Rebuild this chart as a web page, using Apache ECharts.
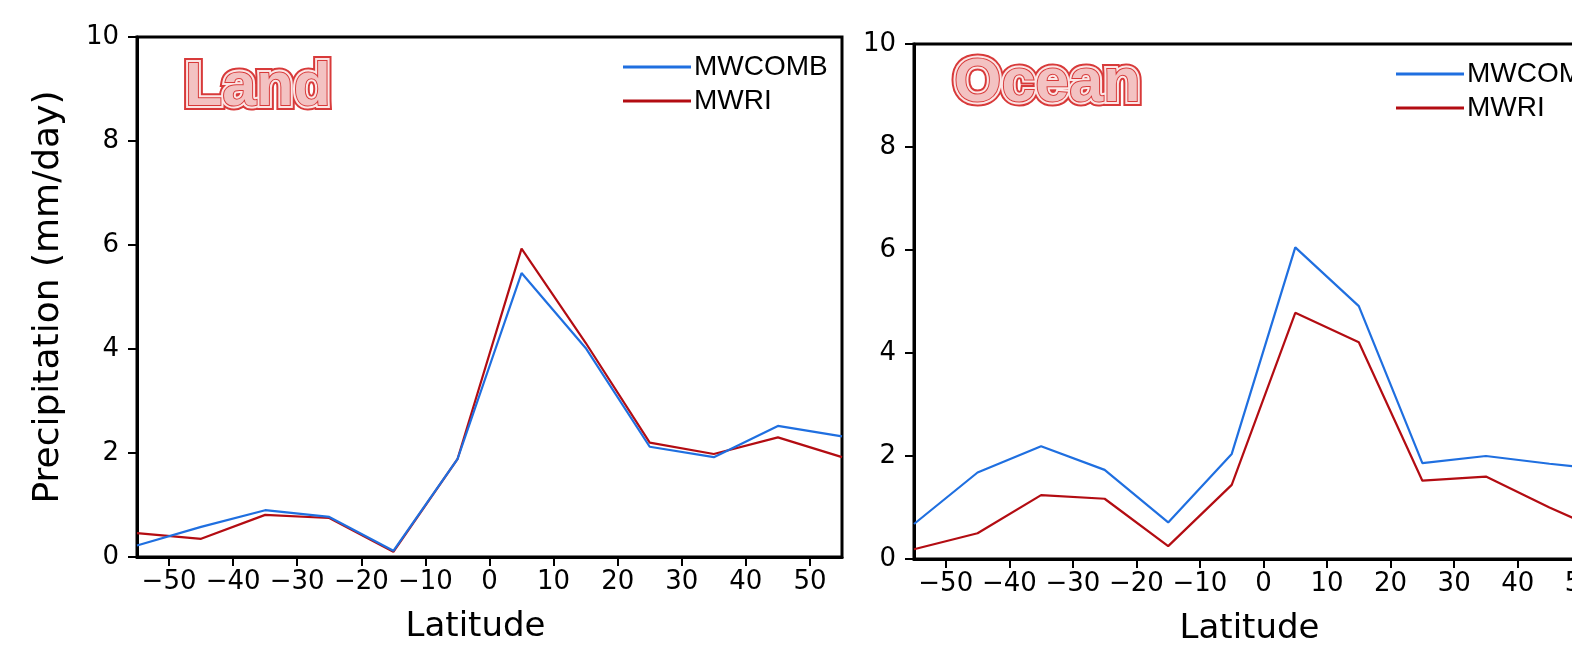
<!DOCTYPE html>
<html>
<head>
<meta charset="utf-8">
<script src="https://cdn.jsdelivr.net/npm/echarts@6/dist/echarts.min.js"></script>
<style>
html,body{margin:0;padding:0;background:#fff;}
#c{width:1572px;height:659px;}
</style>
</head>
<body>
<div id="c"></div>
<script>
// ---- data ----
const latitudes = [-55, -45, -35, -25, -15, -5, 5, 15, 25, 35, 45, 55];
const landMWCOMB = [0.22, 0.58, 0.90, 0.77, 0.12, 1.88, 5.46, 4.02, 2.12, 1.92, 2.52, 2.32];
const landMWRI   = [0.46, 0.35, 0.81, 0.75, 0.10, 1.88, 5.93, 4.12, 2.20, 1.98, 2.30, 1.92];
const oceanMWCOMB = [0.68, 1.68, 2.19, 1.73, 0.71, 2.04, 6.05, 4.91, 1.86, 2.00, 1.85, 1.72];
const oceanMWRI   = [0.19, 0.50, 1.24, 1.17, 0.25, 1.44, 4.78, 4.21, 1.52, 1.60, 1.00, 0.45];
const xTickValues = [-50, -40, -30, -20, -10, 0, 10, 20, 30, 40, 50];
const seriesNames = ['MWCOMB', 'MWRI'];
const panelTitles = ['Land', 'Ocean'];
const yAxisTitle = 'Precipitation (mm/day)';
const xAxisTitle = 'Latitude';

const BLUE = '#1f6fe0', RED = '#b30c12';
const FONT = 'DejaVu Sans';

function pairs(vals){ return latitudes.map((x,i)=>[x, vals[i]]); }

const chart = echarts.init(document.getElementById('c'), null, {renderer:'canvas'});

const grids = [
  {left:137, top:37, width:705, height:520},
  {left:914, top:44, width:699, height:515}
];

function xAx(i){
  return {
    type:'value', gridIndex:i, min:-55, max:55,
    name: xAxisTitle, nameLocation:'middle', nameGap:53,
    nameTextStyle:{fontFamily:FONT, fontSize:34, color:'#000', padding:[0,28,0,0]},
    axisLine:{show:true, onZero:false, lineStyle:{color:'#000', width:3}},
    axisTick:{show:true, customValues:xTickValues, length:9, lineStyle:{color:'#000', width:2}},
    axisLabel:{show:true, customValues:xTickValues, margin:12, fontFamily:FONT, fontSize:26, color:'#000',
      formatter:v=>String(v).replace('-', '\u2212')},
    splitLine:{show:false}
  };
}
function yAx(i, named){
  return {
    type:'value', gridIndex:i, min:0, max:10, interval:2,
    name: named ? yAxisTitle : '', nameLocation:'middle', nameGap:70, nameRotate:90,
    nameTextStyle:{fontFamily:FONT, fontSize:36, color:'#000'},
    axisLine:{show:true, onZero:false, lineStyle:{color:'#000', width:3}},
    axisTick:{show:true, length:9, lineStyle:{color:'#000', width:2}},
    axisLabel:{margin:18, fontFamily:FONT, fontSize:26, color:'#000'},
    splitLine:{show:false}
  };
}

function lineSeries(name, vals, color, gi){
  return {
    type:'line', name:name, xAxisIndex:gi, yAxisIndex:gi,
    data:pairs(vals), showSymbol:false, symbol:'none', clip:true,
    lineStyle:{color:color, width:2.2}, itemStyle:{color:color}, animation:false
  };
}

function titleLayers(text, x, y){
  const font = 'bold 61px "Liberation Sans", Arial, sans-serif';
  return [
    {type:'text', z:100, style:{text:text, x:x, y:y, font:font, fill:'#d83a3a', stroke:'#d83a3a', lineWidth:10, lineJoin:'round',
      shadowBlur:7, shadowColor:'rgba(0,0,0,0.45)', shadowOffsetX:1, shadowOffsetY:3}},
    {type:'text', z:101, style:{text:text, x:x, y:y, font:font, fill:'#fff3f3', stroke:'#fbe6e6', lineWidth:6, lineJoin:'round'}},
    {type:'text', z:102, style:{text:text, x:x, y:y, font:font, fill:'#f3c2c2', stroke:'#d83a3a', lineWidth:2, lineJoin:'round'}}
  ];
}

const legendBase = {
  orient:'vertical', selectedMode:false, icon:'rect', itemWidth:68, itemHeight:3, itemGap:6,
  textStyle:{fontFamily:'"Liberation Sans", Arial, sans-serif', fontSize:28, color:'#000', padding:[0,0,0,-2]},
  data:seriesNames
};

const option = {
  backgroundColor:'#fff',
  animation:false,
  grid: grids.map(g=>Object.assign({show:true, borderColor:'#000', borderWidth:3, backgroundColor:'transparent',
    containLabel:false, outerBoundsMode:'none'}, g)),
  xAxis:[xAx(0), xAx(1)],
  yAxis:[yAx(0,true), yAx(1,false)],
  legend:[
    Object.assign({left:618, top:48}, legendBase),
    Object.assign({left:1391, top:55}, legendBase)
  ],
  series:[
    lineSeries(seriesNames[1], landMWRI, RED, 0),
    lineSeries(seriesNames[0], landMWCOMB, BLUE, 0),
    lineSeries(seriesNames[1], oceanMWRI, RED, 1),
    lineSeries(seriesNames[0], oceanMWCOMB, BLUE, 1)
  ],
  graphic: titleLayers(panelTitles[0], 185, 58).concat(titleLayers(panelTitles[1], 954, 54))
};
chart.setOption(option);
</script>
</body>
</html>
